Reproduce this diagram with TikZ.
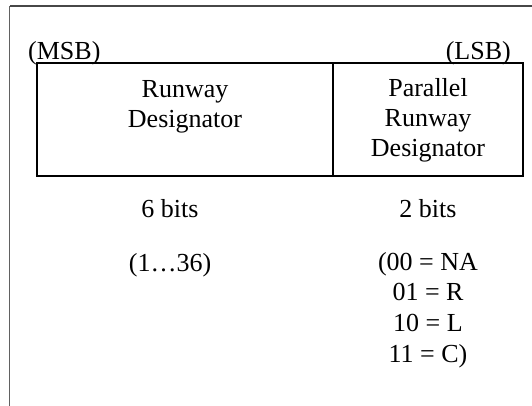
\documentclass[tikz,border=0pt]{standalone}
\usepackage{fontspec}
\setmainfont{Liberation Serif}
\begin{document}
\begin{tikzpicture}[x=1pt,y=-1pt,
  lbl/.style={inner sep=0pt, anchor=base, font=\fontsize{26}{30}\selectfont},
  cellbox/.style={draw=black, line width=1.8pt},
  frameline/.style={draw=black!72, line width=1.3pt}]
\useasboundingbox (0,0) rectangle (532,406);
% outer frame (only top and left visible)
\coordinate (ftr) at (532,6);
\coordinate (ftl) at (9.5,6);
\coordinate (fbl) at (9.5,406);
\draw[frameline] (ftr) -- (ftl);
\draw[frameline, line width=1pt, draw=black!62] (ftl) -- (fbl);
% field boxes
\draw[cellbox] (37,63) rectangle (333,176);
\draw[cellbox] (333,63) rectangle (523,176);
% labels
\node[lbl, anchor=base west] (msb) at (28,60) {(MSB)};
\node[lbl, anchor=base east] (lsb) at (511,60) {(LSB)};
\node[lbl] (rd1) at (185,98) {Runway};
\node[lbl] (rd2) at (185,128) {Designator};
\node[lbl] (pr1) at (428,97) {Parallel};
\node[lbl] (pr2) at (428,127) {Runway};
\node[lbl] (pr3) at (428,157) {Designator};
\node[lbl] (b6) at (170,217) {6 bits};
\node[lbl] (r6) at (170,271) {(1…36)};
\node[lbl] (b2) at (428,217) {2 bits};
\node[lbl] (v1) at (428,270) {(00 = NA};
\node[lbl] (v2) at (428,300) {01 = R};
\node[lbl] (v3) at (428,331) {10 = L};
\node[lbl] (v4) at (428,362) {11 = C)};
\end{tikzpicture}
\end{document}
